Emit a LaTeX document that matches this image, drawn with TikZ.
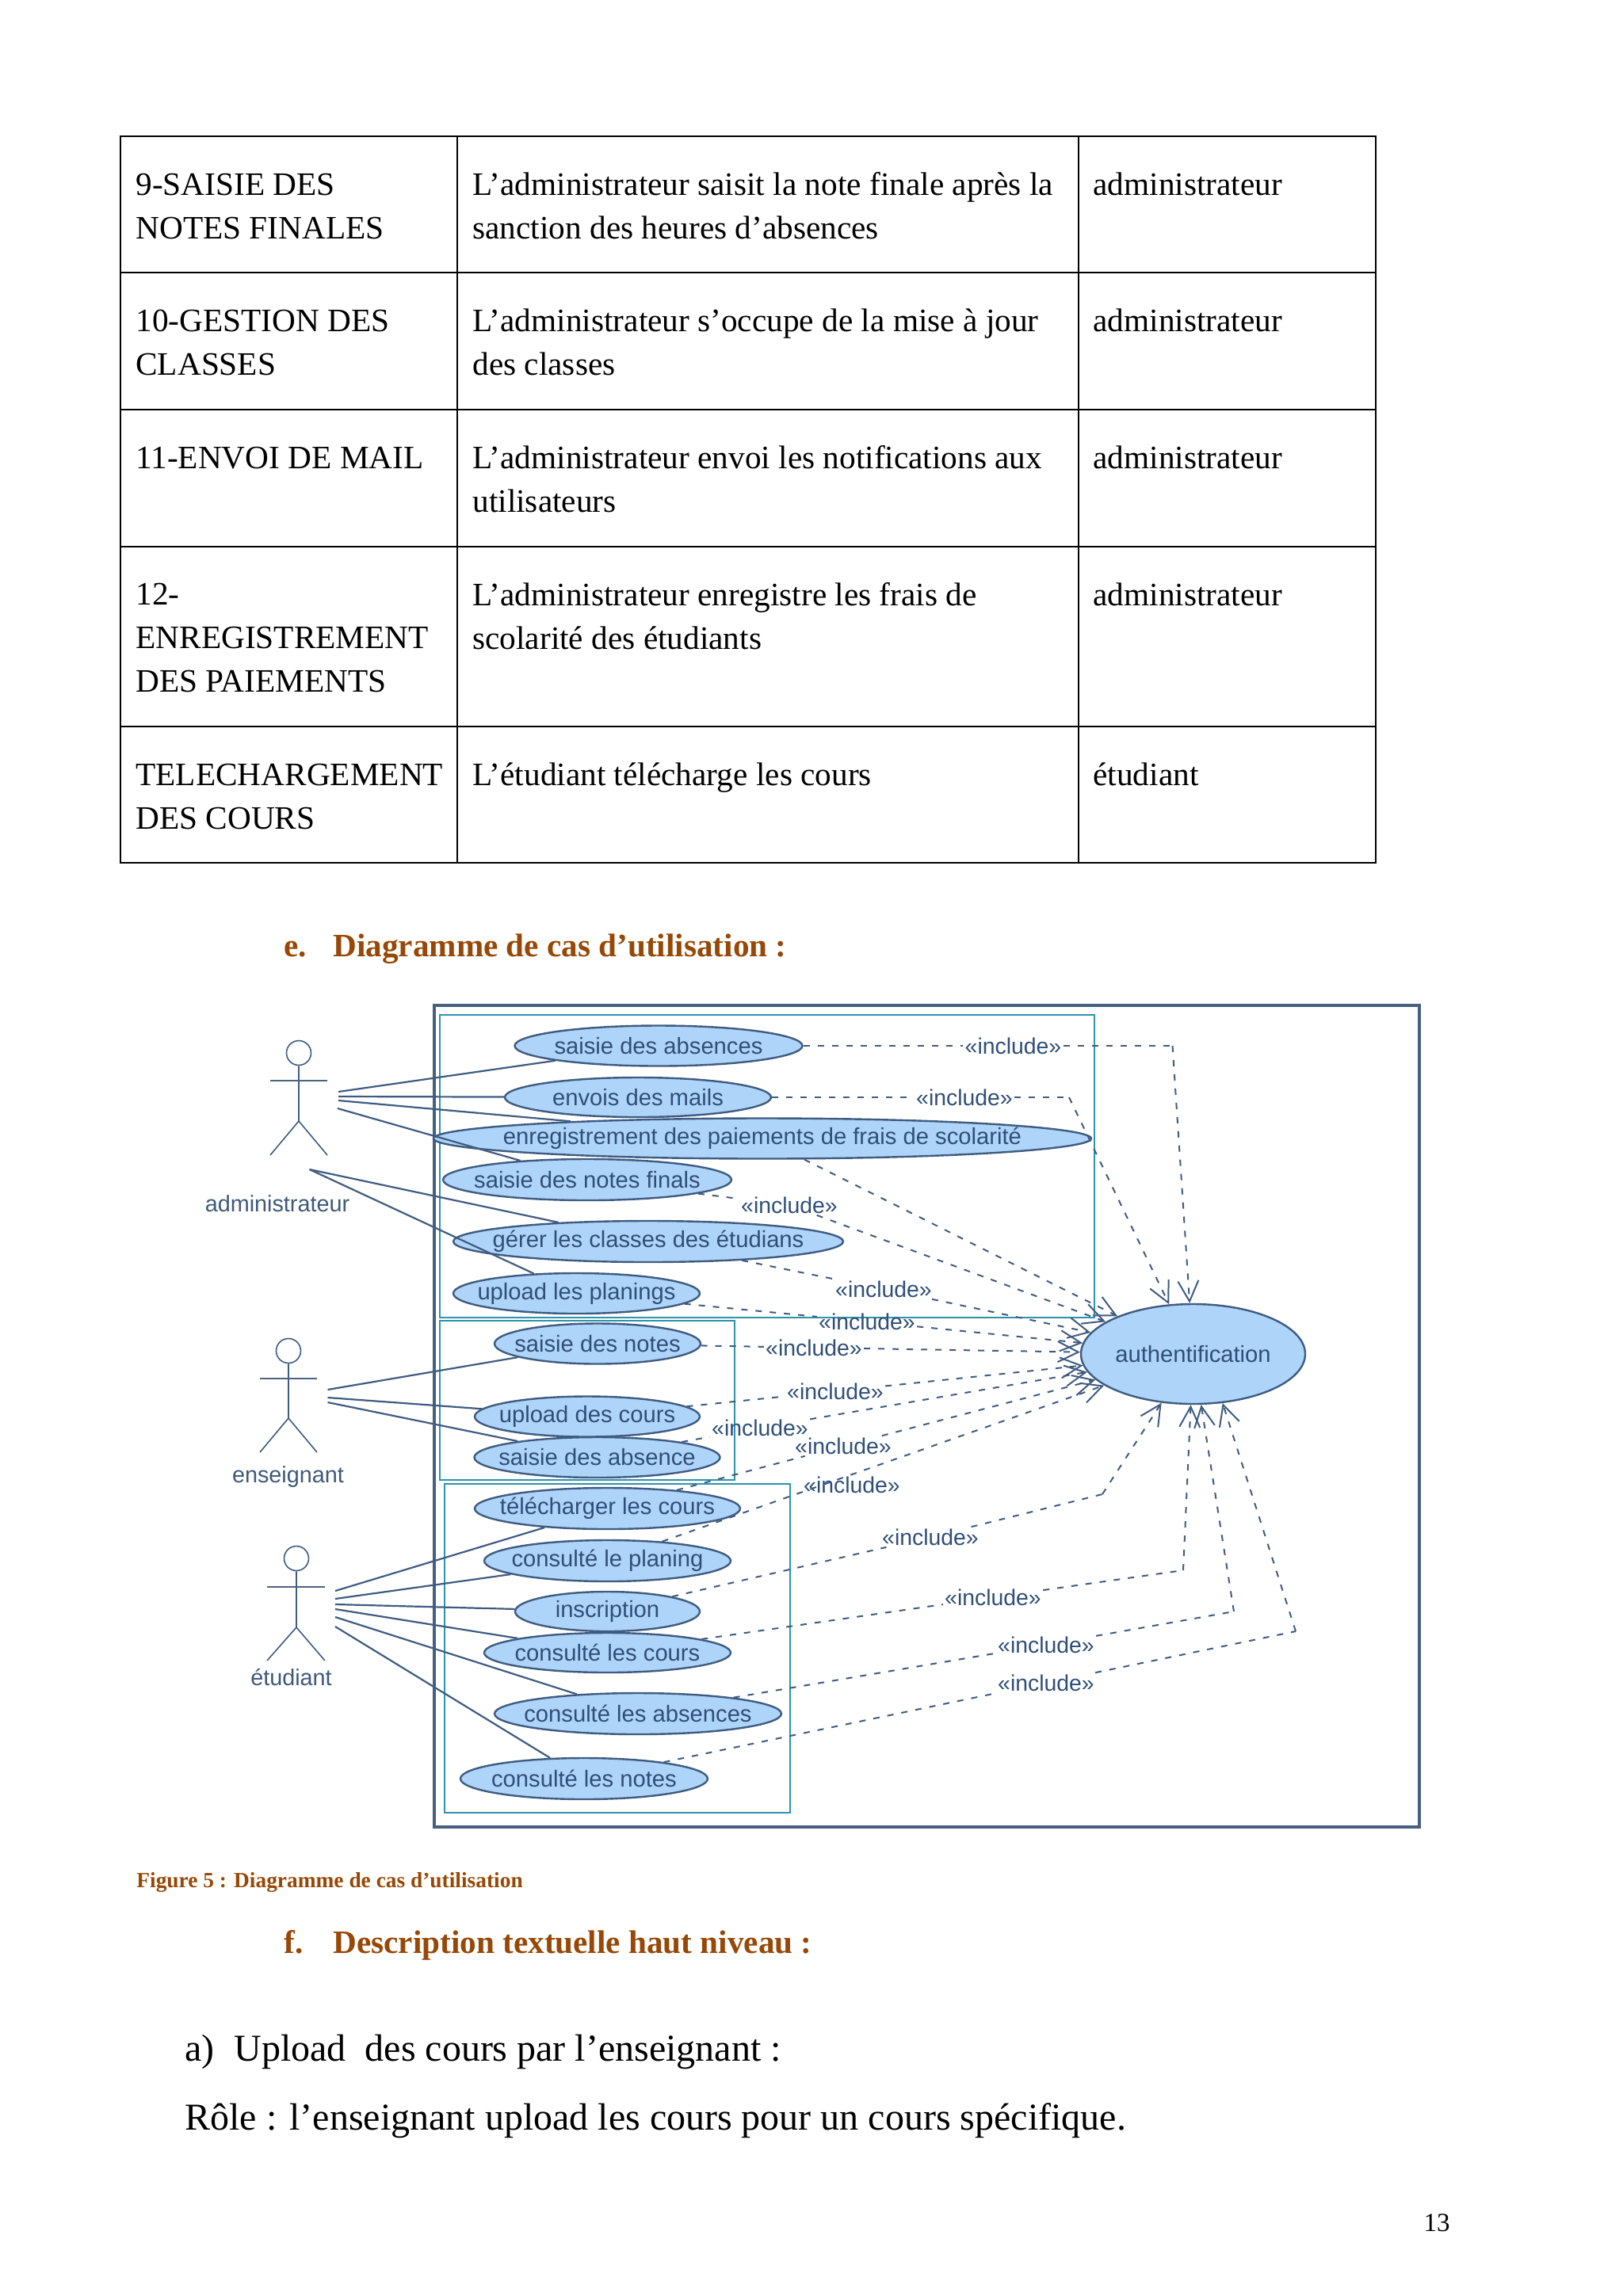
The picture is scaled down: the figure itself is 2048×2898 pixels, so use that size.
\documentclass[tikz,border=0pt]{standalone}
\usepackage{fontspec}
\setmainfont{Liberation Serif}
\newfontfamily\umlfont{Liberation Sans}
\usetikzlibrary{arrows.meta, shapes.geometric}

\definecolor{umlline}{HTML}{3F5C80}
\definecolor{umlfill}{HTML}{AFD4F9}
\definecolor{umltext}{HTML}{2F4F78}
\definecolor{framecol}{HTML}{46607F}
\definecolor{boxcol}{HTML}{2C93AE}
\definecolor{titlecol}{HTML}{974806}

\begin{document}
\begin{tikzpicture}[
	x=0.5pt, y=-0.5pt,
	cell/.style={
		anchor=base west,
		inner sep=0pt,
		align=left,
		font=\fontsize{20.65}{27.4}\selectfont
	},
	heading/.style={
		anchor=base west,
		inner sep=0pt,
		text=titlecol,
		font=\fontsize{20.6}{24}\selectfont\bfseries
	},
	bodytext/.style={
		anchor=base west,
		inner sep=0pt,
		font=\fontsize{24}{29}\selectfont
	},
	usecase/.style 2 args={
		ellipse,
		draw=umlline,
		line width=1.2pt,
		fill=umlfill,
		inner xsep=-40pt,
		inner ysep=-6pt,
		minimum width=#1pt,
		minimum height=#2pt,
		text=umltext,
		font=\umlfont\fontsize{14.6}{17}\selectfont
	},
	inclabel/.style={
		inner sep=1pt,
		text=umltext,
		font=\umlfont\fontsize{14.2}{17}\selectfont
	},
	actorname/.style={
		inner sep=0pt,
		text=umltext!80!gray,
		font=\umlfont\fontsize{14.4}{17}\selectfont
	},
	actorhead/.style={circle, draw=umlline, line width=0.8pt, inner sep=0pt, minimum size=15.5pt},
	actorline/.style={draw=umlline, line width=0.8pt},
	actorarm/.style={draw=umlline!80!gray, line width=1.4pt},
	assoc/.style={draw=umlline, line width=1.1pt},
	incl/.style={
		draw=umlline,
		line width=1pt,
		dash pattern=on 4pt off 5pt,
		-{Straight Barb[length=13pt, width=13pt]}
	},
	inclbare/.style={
		draw=umlline,
		line width=1pt,
		dash pattern=on 4pt off 5pt
	},
	tableline/.style={draw=black, line width=0.9pt},
	cyanbox/.style={draw=boxcol, line width=1.1pt}
	]
	\useasboundingbox (0,0) rectangle (2048,2898);
	
	% ======================
	% Table
	% ======================
	\draw[tableline] (152,172) rectangle (1736,1089);
	\draw[tableline] (152,344) -- (1736,344);
	\draw[tableline] (152,517) -- (1736,517);
	\draw[tableline] (152,690) -- (1736,690);
	\draw[tableline] (152,917) -- (1736,917);
	\draw[tableline] (577,172) -- (577,1089);
	\draw[tableline] (1361,172) -- (1361,1089);
	
	\node (rowa) [cell] at (171,301) {9-SAISIE DES\\NOTES FINALES};
	\node (rowadesc) [cell] at (596,301) {L’administrateur saisit la note finale après la\\sanction des heures d’absences};
	\node (rowaactor) [cell] at (1379,246) {administrateur};
	
	\node (rowb) [cell] at (171,473) {10-GESTION DES\\CLASSES};
	\node (rowbdesc) [cell] at (596,473) {L’administrateur s’occupe de la mise à jour\\des classes};
	\node (rowbactor) [cell] at (1379,418) {administrateur};
	
	\node (rowc) [cell] at (171,591) {11-ENVOI DE MAIL};
	\node (rowcdesc) [cell] at (596,646) {L’administrateur envoi les notifications aux\\utilisateurs};
	\node (rowcactor) [cell] at (1379,591) {administrateur};
	
	\node (rowd) [cell] at (171,873) {12-\\ENREGISTREMENT\\DES PAIEMENTS};
	\node (rowddesc) [cell] at (596,819) {L’administrateur enregistre les frais de\\scolarité des étudiants};
	\node (rowdactor) [cell] at (1379,764) {administrateur};
	
	\node (rowe) [cell] at (171,1046) {TELECHARGEMENT\\DES COURS};
	\node (rowedesc) [cell] at (596,991) {L’étudiant télécharge les cours};
	\node (roweactor) [cell] at (1379,991) {étudiant};
	
	% ======================
	% Headings and text
	% ======================
	\node (titlee) [heading] at (358,1207) {e.};
	\node (titleetext) [heading] at (420,1207) {Diagramme de cas d’utilisation :};
	\node (caption) [heading, font=\fontsize{13.7}{16}\selectfont\bfseries] at (172,2382) {Figure 5 : Diagramme de cas d’utilisation};
	\node (titlef) [heading] at (358,2465) {f.};
	\node (titleftext) [heading] at (420,2465) {Description textuelle haut niveau :};
	\node (parta) [bodytext] at (233,2601) {a)};
	\node (partatext) [bodytext] at (295,2601) {Upload\ \ des cours par l’enseignant :};
	\node (role) [bodytext] at (233,2688) {Rôle : l’enseignant upload les cours pour un cours spécifique.};
	\node (pagenum) [anchor=base east, inner sep=0pt, font=\fontsize{16.5}{20}\selectfont] at (1830,2816) {13};
	
	% ======================
	% Frames
	% ======================
	\draw[draw=framecol, line width=1.6pt] (548,1269) rectangle (1791,2306);
	\draw[cyanbox] (555,1281) rectangle (1381,1663);
	\draw[cyanbox] (555,1667) rectangle (927,1868);
	\draw[cyanbox] (561,1873) rectangle (997,2288);
	
	% ======================
	% Actors
	% ======================
	\node (adminhead) [actorhead] at (377,1329) {};
	\draw[actorline] (adminhead) -- ++(0,86) coordinate (adminhip) -- ++(-36,43);
	\draw[actorline] (adminhip) -- ++(36,43);
	\draw[actorarm] (adminhead) ++(-36,35) -- ++(72,0);
	\node (adminname) [actorname] at (350,1519) {administrateur};
	
	\node (profhead) [actorhead] at (364,1705) {};
	\draw[actorline] (profhead) -- ++(0,85) coordinate (profhip) -- ++(-36,43);
	\draw[actorline] (profhip) -- ++(36,43);
	\draw[actorarm] (profhead) ++(-36,35) -- ++(72,0);
	\node (profname) [actorname] at (363.5,1864) {enseignant};
	
	\node (studhead) [actorhead] at (374,1967) {};
	\draw[actorline] (studhead) -- ++(0,87) coordinate (studhip) -- ++(-37,42);
	\draw[actorline] (studhip) -- ++(36,42);
	\draw[actorarm] (studhead) ++(-37,36) -- ++(73,0);
	\node (studname) [actorname] at (367.5,2117) {étudiant};
	
	% ======================
	% Use cases
	% ======================
	\node (auth) [usecase={141.5}{63}] at (1505.5,1709) {authentification};
	
	\node (saisieabs) [usecase={181.5}{25.5}] at (831,1320) {saisie des absences};
	\node (envois) [usecase={168}{25}] at (805,1385) {envois des mails};
	\node (paiements) [usecase={415}{25.5}] at (962,1437) {enregistrement des paiements de frais de scolarité};
	\node (notesfin) [usecase={182}{26}] at (741,1489) {saisie des notes finals};
	\node (classes) [usecase={246}{26}] at (818,1567) {gérer les classes des étudians};
	\node (planings) [usecase={155.5}{25.5}] at (727.5,1632.5) {upload les planings};
	
	\node (saisienotes) [usecase={130}{25.5}] at (754,1696) {saisie des notes};
	\node (uploadcours) [usecase={142}{25.5}] at (741,1788) {upload des cours};
	\node (saisieabse) [usecase={155}{25.5}] at (753.5,1839.5) {saisie des absence};
	
	\node (telecours) [usecase={167.5}{26}] at (766.5,1904) {télécharger les cours};
	\node (consplan) [usecase={155.5}{26}] at (766.5,1970) {consulté le planing};
	\node (inscription) [usecase={116.5}{25}] at (766.5,2034) {inscription};
	\node (conscours) [usecase={155.5}{25}] at (766.5,2086) {consulté les cours};
	\node (consabs) [usecase={181}{26}] at (805,2163) {consulté les absences};
	\node (consnotes) [usecase={156}{26}] at (737,2245) {consulté les notes};
	
	% ======================
	% Associations
	% ======================
	\coordinate (adminr1) at (427,1378);
	\coordinate (adminr2) at (427,1384);
	\coordinate (adminr3) at (427,1389);
	\coordinate (adminr4) at (426,1399);
	\coordinate (adminb) at (390.5,1476);
	\draw[assoc] (adminr1) -- (saisieabs);
	\draw[assoc] (adminr2) -- (envois);
	\draw[assoc] (adminr3) -- (paiements);
	\draw[assoc] (adminr4) -- (notesfin);
	\draw[assoc] (adminb) -- (classes);
	\draw[assoc] (adminb) -- (planings);
	
	\coordinate (profr1) at (413.5,1754);
	\coordinate (profr2) at (413.5,1764);
	\coordinate (profr3) at (413.5,1770);
	\draw[assoc] (profr1) -- (saisienotes);
	\draw[assoc] (profr2) -- (uploadcours);
	\draw[assoc] (profr3) -- (saisieabse);
	
	\coordinate (studr1) at (423,2008);
	\coordinate (studr2) at (423,2018);
	\coordinate (studr3) at (423,2025);
	\coordinate (studr4) at (423,2031);
	\coordinate (studr5) at (423,2041);
	\coordinate (studr6) at (423,2053);
	\draw[assoc] (studr1) -- (telecours);
	\draw[assoc] (studr2) -- (consplan);
	\draw[assoc] (studr3) -- (inscription);
	\draw[assoc] (studr4) -- (conscours);
	\draw[assoc] (studr5) -- (consabs);
	\draw[assoc] (studr6) -- (consnotes);
	
	% ======================
	% Include links
	% ======================
	\node (inca) [inclabel] at (1278.5,1320) {«include»};
	\node (incb) [inclabel] at (1217,1385) {«include»};
	\node (incd) [inclabel] at (996,1521) {«include»};
	\node (ince) [inclabel] at (1115,1627) {«include»};
	\node (incf) [inclabel] at (1094,1668) {«include»};
	\node (incg) [inclabel] at (1027,1701) {«include»};
	\node (inch) [inclabel] at (1054,1756) {«include»};
	\node (inci) [inclabel] at (959,1802) {«include»};
	\node (incj) [inclabel] at (1064,1825) {«include»};
	\node (inck) [inclabel] at (1075,1874) {«include»};
	\node (incl) [inclabel] at (1174,1940) {«include»};
	\node (incm) [inclabel] at (1253,2016) {«include»};
	\node (incn) [inclabel] at (1320,2076) {«include»};
	\node (inco) [inclabel] at (1320,2124) {«include»};
	
	\coordinate (kneea) at (1479.5,1320);
	\coordinate (kneeb) at (1349,1385);
	\coordinate (kneel) at (1391,1886);
	\coordinate (kneem) at (1493,1982);
	\coordinate (kneen) at (1557,2034);
	\coordinate (kneeo) at (1635,2059);
	
	\draw[inclbare] (saisieabs) -- (inca) -- (kneea);
	\draw[incl] (kneea) -- (auth);
	\draw[inclbare] (envois) -- (incb) -- (kneeb);
	\draw[incl] (kneeb) -- (auth);
	\draw[incl] (paiements) -- (auth);
	\draw[inclbare] (notesfin) -- (incd);
	\draw[incl] (incd) -- (auth);
	\draw[inclbare] (classes) -- (ince);
	\draw[incl] (ince) -- (auth);
	\draw[inclbare] (planings) -- (incf);
	\draw[incl] (incf) -- (auth);
	\draw[inclbare] (saisienotes) -- (incg);
	\draw[incl] (incg) -- (auth);
	\draw[inclbare] (uploadcours) -- (inch);
	\draw[incl] (inch) -- (auth);
	\draw[inclbare] (saisieabse) -- (inci);
	\draw[incl] (inci) -- (auth);
	\draw[inclbare] (telecours) -- (incj);
	\draw[incl] (incj) -- (auth);
	\draw[incl] (consplan) -- (auth);
	\draw[inclbare] (inscription) -- (incl) -- (kneel);
	\draw[incl] (kneel) -- (auth);
	\draw[inclbare] (conscours) -- (incm) -- (kneem);
	\draw[incl] (kneem) -- (auth);
	\draw[inclbare] (consabs) -- (incn) -- (kneen);
	\draw[incl] (kneen) -- (auth);
	\draw[inclbare] (consnotes) -- (inco) -- (kneeo);
	\draw[incl] (kneeo) -- (auth.-59);
	
\end{tikzpicture}
\end{document}
